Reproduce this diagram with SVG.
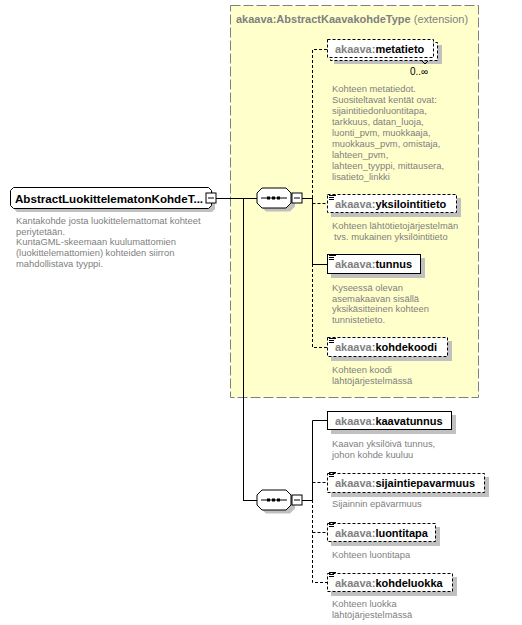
<svg xmlns="http://www.w3.org/2000/svg" width="522" height="625" viewBox="0 0 522 625">
<style>
text{font-family:"Liberation Sans",Arial,sans-serif}
.nm{font-size:11px;font-weight:bold;fill:#000}
.px{fill:#808080}
.ds{font-size:9.4px;fill:#808080}
.sh{fill:#c0c0c0}
.bx{fill:#fff;stroke:#000;stroke-width:1}
.bd{fill:#fff;stroke:#000;stroke-width:1;stroke-dasharray:3,2}
.ln{stroke:#000;stroke-width:1;fill:none}
.dl{stroke:#000;stroke-width:1;fill:none;stroke-dasharray:3,2}
.ic{stroke:#000;stroke-width:1}
</style>
<defs>
<g id="doc"><path class="ic" d="M0,0.5h7M0,2.5h5M0,4.5h5"/></g>
<g id="seq">
<path class="sh" d="M9,4h24l5,5v10l-5,5h-24l-5-5v-10z"/>
<path class="bx" d="M5,0.5h24l5,5v10l-5,5h-24l-5-5v-10z"/>
<path class="ln" d="M4,10.5h26"/>
<rect x="10" y="9" width="3" height="3"/><rect x="15" y="9" width="3" height="3"/><rect x="20" y="9" width="3" height="3"/>
</g>
<g id="minus"><rect class="bx" x="0.5" y="0.5" width="10" height="10"/><path class="ln" d="M2.5,5.5h6"/></g>
</defs>

<rect x="230.5" y="5.5" width="248" height="392" fill="#ffffcc" stroke="#808080" stroke-dasharray="10,3"/>
<text x="236" y="23" style="font-size:11px;fill:#808080"><tspan font-weight="bold">akaava:AbstractKaavakohdeType</tspan> (extension)</text>

<g id="connectors">
<path class="ln" d="M216,198.5h41M243.5,198.5V500.5M243,500.5h14M302,198.5h10M302,500.5h10"/>
<path class="dl" d="M312.5,198V49.5h15M312.5,203.5h15M312.5,264V347.5h15"/>
<path class="ln" d="M312.5,198V264.5h15"/>
<path class="ln" d="M312.5,500V420.5h15"/>
<path class="dl" d="M312.5,482.5h15M312.5,500V582.5h15M312.5,532.5h15"/>
</g>

<g id="main">
<path class="sh" d="M17,191h195l3,3v15l-3,3h-195l-3-3v-15z"/>
<path class="bx" d="M13.5,187.5h195l3,3v15l-3,3h-195l-3-3v-15z"/>
<use href="#minus" x="205.5" y="192.5"/>
<text class="nm" x="15" y="202.5" style="font-size:11.6px">AbstractLuokittelematonKohdeT...</text>
<text class="ds"><tspan x="16" y="224">Kantakohde josta luokittelemattomat kohteet</tspan><tspan x="16" y="234.7">periytetään.</tspan><tspan x="16" y="245.4">KuntaGML-skeemaan kuulumattomien</tspan><tspan x="16" y="256.1">(luokittelemattomien) kohteiden siirron</tspan><tspan x="16" y="266.8">mahdollistava tyyppi.</tspan></text>
</g>

<g id="seq1"><use href="#seq" x="257" y="187.5"/><use href="#minus" x="291.5" y="192.5"/></g>
<g id="seq2"><use href="#seq" x="257" y="489.5"/><use href="#minus" x="291.5" y="494.5"/></g>

<g id="metatieto">
<rect class="sh" x="334" y="45" width="108" height="19"/>
<rect class="bd" x="330.5" y="42.5" width="107" height="18"/>
<rect class="bd" x="327.5" y="39.5" width="106" height="18"/>
<path class="ln" d="M422,61l3,3l3-3"/>
<text class="nm" x="335" y="53"><tspan class="px">akaava:</tspan>metatieto</text>
<text x="410" y="75" style="font-size:10px;fill:#000">0..∞</text>
<text class="ds"><tspan x="332" y="92">Kohteen metatiedot.</tspan><tspan x="332" y="103">Suositeltavat kentät ovat:</tspan><tspan x="332" y="114">sijaintitiedonluontitapa,</tspan><tspan x="332" y="125">tarkkuus, datan_luoja,</tspan><tspan x="332" y="136">luonti_pvm, muokkaaja,</tspan><tspan x="332" y="147">muokkaus_pvm, omistaja,</tspan><tspan x="332" y="158">lahteen_pvm,</tspan><tspan x="332" y="169">lahteen_tyyppi, mittausera,</tspan><tspan x="332" y="180">lisatieto_linkki</tspan></text>
</g>

<g id="yksilointitieto">
<rect class="sh" x="331" y="198" width="130" height="19"/>
<rect class="bd" x="327.5" y="194.5" width="129" height="18"/>
<use href="#doc" x="329" y="195"/>
<text class="nm" x="335" y="207.5"><tspan class="px">akaava:</tspan>yksilointitieto</text>
<text class="ds"><tspan x="332" y="229">Kohteen lähtötietojärjestelmän</tspan><tspan x="334" y="240">tvs. mukainen yksilöintitieto</tspan></text>
</g>

<g id="tunnus">
<rect class="sh" x="331" y="258" width="94" height="20"/>
<rect class="bx" x="327.5" y="254.5" width="93" height="19"/>
<use href="#doc" x="329" y="255"/>
<text class="nm" x="335" y="268"><tspan class="px">akaava:</tspan>tunnus</text>
<text class="ds"><tspan x="332" y="291">Kyseessä olevan</tspan><tspan x="332" y="301.7">asemakaavan sisällä</tspan><tspan x="332" y="312.4">yksikäsitteinen kohteen</tspan><tspan x="332" y="323.1">tunnistetieto.</tspan></text>
</g>

<g id="kohdekoodi">
<rect class="sh" x="331" y="341" width="121" height="20"/>
<rect class="bd" x="327.5" y="337.5" width="120" height="19"/>
<use href="#doc" x="329" y="338"/>
<text class="nm" x="335" y="351"><tspan class="px">akaava:</tspan>kohdekoodi</text>
<text class="ds"><tspan x="332" y="373">Kohteen koodi</tspan><tspan x="332" y="383.7">lähtöjärjestelmässä</tspan></text>
</g>

<g id="kaavatunnus">
<rect class="sh" x="331" y="415" width="125" height="19"/>
<rect class="bx" x="327.5" y="411.5" width="124" height="18"/>
<text class="nm" x="335" y="424.5"><tspan class="px">akaava:</tspan>kaavatunnus</text>
<text class="ds"><tspan x="332" y="447">Kaavan yksilöivä tunnus,</tspan><tspan x="332" y="457.7">johon kohde kuuluu</tspan></text>
</g>

<g id="sijaintiepavarmuus">
<rect class="sh" x="331" y="477" width="158" height="20"/>
<rect class="bd" x="327.5" y="473.5" width="157" height="19"/>
<use href="#doc" x="329" y="472"/>
<text class="nm" x="335" y="487"><tspan class="px">akaava:</tspan>sijaintiepavarmuus</text>
<text class="ds" x="332" y="507">Sijainnin epävarmuus</text>
</g>

<g id="luontitapa">
<rect class="sh" x="331" y="527" width="109" height="19"/>
<rect class="bd" x="327.5" y="523.5" width="108" height="18"/>
<use href="#doc" x="329" y="522"/>
<text class="nm" x="335" y="536.5"><tspan class="px">akaava:</tspan>luontitapa</text>
<text class="ds" x="332" y="557.5">Kohteen luontitapa</text>
</g>

<g id="kohdeluokka">
<rect class="sh" x="331" y="577" width="126" height="19"/>
<rect class="bd" x="327.5" y="573.5" width="125" height="18"/>
<use href="#doc" x="329" y="572"/>
<text class="nm" x="335" y="586.5"><tspan class="px">akaava:</tspan>kohdeluokka</text>
<text class="ds"><tspan x="332" y="607">Kohteen luokka</tspan><tspan x="332" y="617.7">lähtöjärjestelmässä</tspan></text>
</g>
</svg>
